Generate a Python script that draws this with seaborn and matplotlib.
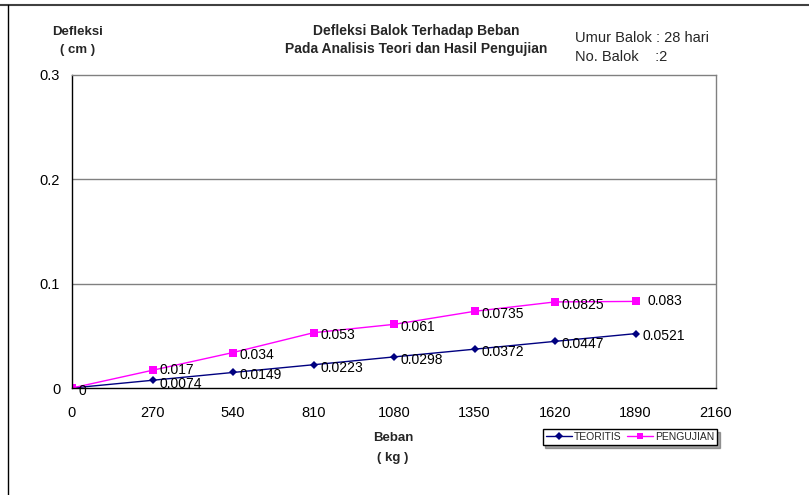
import matplotlib.pyplot as plt
import matplotlib.lines as mlines
import pandas as pd
import seaborn as sns

# data
beban = [0, 270, 540, 810, 1080, 1350, 1620, 1890]
teoritis = [0, 0.0074, 0.0149, 0.0223, 0.0298, 0.0372, 0.0447, 0.0521]
pengujian = [0, 0.017, 0.034, 0.053, 0.061, 0.0735, 0.0825, 0.083]
teoritis_lbl = ["0", "0.0074", "0.0149", "0.0223", "0.0298", "0.0372", "0.0447", "0.0521"]
pengujian_lbl = ["0", "0.017", "0.034", "0.053", "0.061", "0.0735", "0.0825", "0.083"]
xticks = [0, 270, 540, 810, 1080, 1350, 1620, 1890, 2160]
yticks = [0, 0.1, 0.2, 0.3]

df = pd.DataFrame({"Beban": beban * 2,
                   "Defleksi": teoritis + pengujian,
                   "Seri": ["TEORITIS"] * len(beban) + ["PENGUJIAN"] * len(beban)})

sns.set_style("white")
plt.rcParams['font.family'] = ['Liberation Sans', 'DejaVu Sans']

fig = plt.figure(figsize=(8.09, 4.95), dpi=100)
ax = fig.add_axes([72/809, 1-388/495, 644/809, 313/495])

sns.lineplot(data=df, x="Beban", y="Defleksi", hue="Seri", style="Seri",
             palette={"TEORITIS": "#000080", "PENGUJIAN": "#ff00ff"},
             markers={"TEORITIS": "D", "PENGUJIAN": "s"},
             dashes=False, linewidth=1, ax=ax, legend=False,
             markeredgewidth=0)
# marker sizes
for ln in ax.lines:
    if ln.get_marker() == "D":
        ln.set_markersize(4.5)
    else:
        ln.set_markersize(6)

for i, (x, y, t) in enumerate(zip(beban, teoritis, teoritis_lbl)):
    dy = -3 if i == 1 else -2
    ax.annotate(t, (x, y), xytext=(5, dy), textcoords="offset points",
                fontsize=10, va="center", ha="left", color="black")
for i, (x, y, t) in enumerate(zip(beban, pengujian, pengujian_lbl)):
    if i == 0:
        continue
    dx = 9 if i == len(beban) - 1 else 5
    dy = 0 if i in (1, len(beban) - 1) else -2
    ax.annotate(t, (x, y), xytext=(dx, dy), textcoords="offset points",
                fontsize=10, va="center", ha="left", color="black")

ax.set_xlim(0, 2160)
ax.set_ylim(0, 0.3)
ax.set_xticks(xticks)
ax.set_yticks(yticks)
ax.set_yticklabels(["0", "0.1", "0.2", "0.3"])
ax.tick_params(axis="both", labelsize=10.5, direction="out", length=5, width=1)
ax.tick_params(axis="y", colors="#808080", labelcolor="black")
ax.tick_params(axis="x", colors="black", pad=8)
ax.set_xlabel("")
ax.set_ylabel("")
for yv in [0.1, 0.2]:
    ax.axhline(yv, color="#808080", linewidth=1, zorder=0)
ax.spines["left"].set_color("black")
ax.spines["bottom"].set_color("black")
ax.spines["top"].set_color("#808080")
ax.spines["right"].set_color("#808080")
for s in ax.spines.values():
    s.set_linewidth(1)
    s.set_visible(True)

# titles and labels
fig.text(416/809, 1-31/495, "Defleksi Balok Terhadap Beban", ha="center", va="center",
         fontsize=10, fontweight="bold")
fig.text(416/809, 1-49/495, "Pada Analisis Teori dan Hasil Pengujian", ha="center", va="center",
         fontsize=10, fontweight="bold")
fig.text(78/809, 1-32/495, "Defleksi", ha="center", va="center", fontsize=9.5, fontweight="bold")
fig.text(78/809, 1-50/495, "( cm )", ha="center", va="center", fontsize=9.5, fontweight="bold")
fig.text(575/809, 1-38/495, "Umur Balok : 28 hari", ha="left", va="center", fontsize=10.5)
fig.text(575/809, 1-57/495, "No. Balok    :2", ha="left", va="center", fontsize=10.5)
fig.text(393/809, 1-438/495, "Beban", ha="center", va="center", fontsize=9.5, fontweight="bold")
fig.text(393/809, 1-458/495, "( kg )", ha="center", va="center", fontsize=9.5, fontweight="bold")

# legend
h1 = mlines.Line2D([], [], color="#000080", marker="D", markersize=4, linewidth=1,
                   markeredgewidth=0, label="TEORITIS")
h2 = mlines.Line2D([], [], color="#ff00ff", marker="s", markersize=5, linewidth=1,
                   markeredgewidth=0, label="PENGUJIAN")
leg = fig.legend(handles=[h1, h2], loc="center", bbox_to_anchor=(630/809, 1-437/495),
                 ncol=2, fontsize=7.5, frameon=True, fancybox=False, shadow=True,
                 handlelength=2.5, handletextpad=0.2, columnspacing=0.5,
                 borderpad=0.3, borderaxespad=0)
leg.get_frame().set_edgecolor("black")
leg.get_frame().set_linewidth(1)

# outer chart border
fig.add_artist(mlines.Line2D([0, 1], [1-4.5/495, 1-4.5/495], color="#404040", linewidth=1.5))
fig.add_artist(mlines.Line2D([8/809, 8/809], [0, 1-4.5/495], color="black", linewidth=1))

fig.savefig("out.png", dpi=100)
